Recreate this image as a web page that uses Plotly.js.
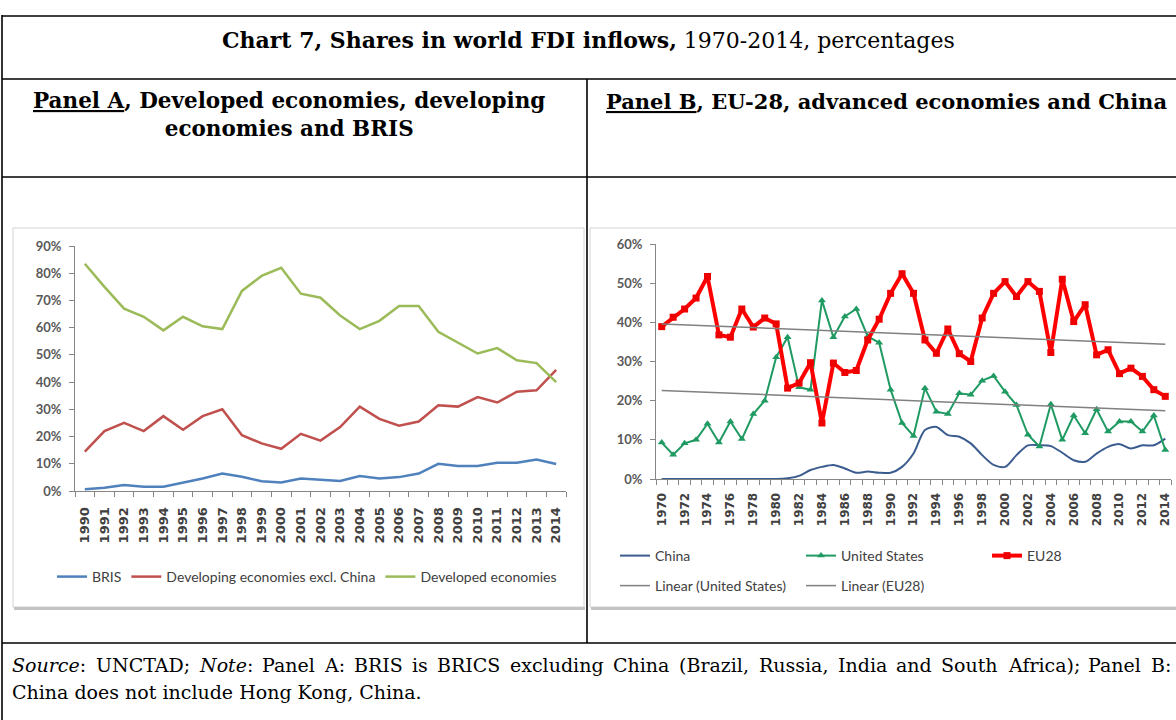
<!DOCTYPE html>
<html>
<head>
<meta charset="utf-8">
<script src="https://cdn.plot.ly/plotly-3.0.1.min.js"></script>
<style>
html,body{margin:0;padding:0;background:#ffffff;}
#chart{width:1176px;height:720px;}
</style>
</head>
<body>
<div id="chart"></div>
<script>
// ---------- Panel A data (shares of world FDI inflows, %) ----------
const yearsA = [1990,1991,1992,1993,1994,1995,1996,1997,1998,1999,2000,2001,2002,2003,2004,2005,2006,2007,2008,2009,2010,2011,2012,2013,2014];
const brisA = [0.6,1.2,2.2,1.6,1.6,3.0,4.6,6.4,5.2,3.6,3.1,4.6,4.2,3.7,5.5,4.6,5.1,6.4,10.0,9.2,9.2,10.4,10.4,11.6,9.9];
const developingA = [14.5,22,25,22,27.5,22.5,27.5,30,20.5,17.5,15.5,21,18.5,23.5,31,26.5,24,25.5,31.5,31,34.5,32.5,36.5,37,44.5];
const developedA = [83.5,75,67,64,59,64,60.5,59.5,73.5,79,82,72.5,71,64.5,59.5,62.5,68,68,58.5,54.5,50.5,52.5,48,47,40];
const seriesNamesA = ["BRIS","Developing economies excl. China","Developed economies"];
const yTicksA = [0,10,20,30,40,50,60,70,80,90];

// ---------- Panel B data ----------
const yearsB = [1970,1971,1972,1973,1974,1975,1976,1977,1978,1979,1980,1981,1982,1983,1984,1985,1986,1987,1988,1989,1990,1991,1992,1993,1994,1995,1996,1997,1998,1999,2000,2001,2002,2003,2004,2005,2006,2007,2008,2009,2010,2011,2012,2013,2014];
const chinaB = [0,0,0,0,0,0,0,0,0,0,0,0.2,0.8,2.3,3.1,3.6,2.7,1.6,1.9,1.6,1.6,3.1,6.5,12.5,13.3,11.2,10.8,9.1,6.1,3.6,3.1,6.1,8.6,8.6,8.4,6.7,4.8,4.4,6.5,8.2,8.9,7.8,8.6,8.6,10.3];
const usB = [9.3,6.2,9.1,10,14.1,9.3,14.7,10.2,16.6,20,31.1,36.2,23.4,22.8,45.6,36.2,41.5,43.4,36.4,34.8,22.8,14.3,11,23.2,17.2,16.6,21.9,21.5,25.1,26.3,22.3,18.9,11.3,8.3,19.1,10,16.2,11.7,17.8,12.1,14.7,14.7,12.1,16.2,7.4];
const eu28B = [38.9,41.3,43.4,46.2,51.7,36.8,36.2,43.4,38.8,41.1,39.6,23.2,24.5,29.7,14.3,29.6,27.2,27.7,35.5,40.8,47.4,52.4,47.4,35.5,32.1,38.3,32,30,41.1,47.4,50.4,46.6,50.4,47.9,32.3,51,40.2,44.5,31.7,33,26.9,28.3,26.2,22.8,21.1];
const trendYearsB = [1970,2014];
const trendUSB = [22.6,17.4];
const trendEUB = [39.6,34.4];
const seriesNamesB = ["China","United States","EU28","Linear (United States)","Linear (EU28)"];
const yTicksB = [0,10,20,30,40,50,60];

// ---------- document texts ----------
const titleText = '<b>Chart 7, Shares in world FDI inflows,</b> 1970-2014, percentages';
const headerA = '<b><u>Panel A</u>, Developed economies, developing<br>economies and BRIS</b>';
const headerB = '<b><u>Panel B</u>, EU-28, advanced economies and China</b>';
const sourceLine1Words = ['<i>Source</i>:', 'UNCTAD;', '<i>Note</i>:', 'Panel', 'A:', 'BRIS', 'is', 'BRICS', 'excluding', 'China', '(Brazil,', 'Russia,', 'India', 'and', 'South', 'Africa);', 'Panel', 'B:'];
const sourceLine2 = 'China does not include Hong Kong, China.';

// ---------- helpers: pixel -> paper ----------
const W = 1176, H = 720;
const X = px => px / W;
const Y = py => 1 - py / H;

const serif = 'DejaVu Serif';
const srcSize = 19;
const tickFontXA = {family:'DejaVu Sans', size:13, color:'#404040', weight:'bold'};
const tickFontXB = {family:'DejaVu Sans', size:12, color:'#404040', weight:'bold'};
const tickFontY = {family:'Lato', size:13, color:'#595959', weight:'bold'};
const legFont = {family:'Lato', size:14, color:'#404040'};
const axisGray = '#868686';

const traces = [
  {x: yearsA, y: brisA, name: seriesNamesA[0], type:'scatter', mode:'lines', line:{color:'#4F81BD', width:2.5}, xaxis:'x', yaxis:'y', legend:'legend'},
  {x: yearsA, y: developingA, name: seriesNamesA[1], type:'scatter', mode:'lines', line:{color:'#C0504D', width:2.5}, xaxis:'x', yaxis:'y', legend:'legend'},
  {x: yearsA, y: developedA, name: seriesNamesA[2], type:'scatter', mode:'lines', line:{color:'#9BBB59', width:2.5}, xaxis:'x', yaxis:'y', legend:'legend'},

  {x: yearsB, y: chinaB, name: seriesNamesB[0], type:'scatter', mode:'lines', line:{color:'#3B5C8F', width:2, shape:'spline', smoothing:0.8}, xaxis:'x2', yaxis:'y2', legend:'legend2'},
  {x: yearsB, y: usB, name: seriesNamesB[1], type:'scatter', mode:'lines+markers', line:{color:'#1F9A62', width:2}, marker:{symbol:'triangle-up', size:7, color:'#1F9A62'}, xaxis:'x2', yaxis:'y2', legend:'legend2'},
  {x: yearsB, y: eu28B, name: seriesNamesB[2], type:'scatter', mode:'lines+markers', line:{color:'#FF0000', width:4}, marker:{symbol:'square', size:7, color:'#EE0000'}, xaxis:'x2', yaxis:'y2', legend:'legend2'},
  {x: trendYearsB, y: trendUSB, name: seriesNamesB[3], type:'scatter', mode:'lines', line:{color:'#808080', width:1.5}, xaxis:'x2', yaxis:'y2', legend:'legend3'},
  {x: trendYearsB, y: trendEUB, name: seriesNamesB[4], type:'scatter', mode:'lines', line:{color:'#808080', width:1.5}, xaxis:'x2', yaxis:'y2', legend:'legend3'}
];

function hline(y, x0, x1, w){ return {type:'line', xref:'paper', yref:'paper', x0:X(x0), x1:X(x1), y0:Y(y), y1:Y(y), line:{color:'#000000', width:w||1.6}}; }
function vline(x, y0, y1, w){ return {type:'line', xref:'paper', yref:'paper', x0:X(x), x1:X(x), y0:Y(y0), y1:Y(y1), line:{color:'#000000', width:w||1.6}}; }
function box(x0, y0, x1, y1){ return {type:'rect', xref:'paper', yref:'paper', layer:'below', x0:X(x0), x1:X(x1), y0:Y(y1), y1:Y(y0), line:{color:'#D4D4D4', width:1}, fillcolor:'#FFFFFF'}; }
function shadow(y, x0, x1){ return {type:'line', xref:'paper', yref:'paper', layer:'below', x0:X(x0), x1:X(x1), y0:Y(y), y1:Y(y), line:{color:'#C4C4C4', width:3}}; }

const shapes = [
  box(13, 228, 584, 607), shadow(608.5, 14, 585),
  box(590, 228, 1190, 607), shadow(608.5, 591, 1190),
  hline(16, 2, 1176), hline(79, 2, 1176), hline(177, 2, 1176), hline(643, 2, 1176),
  vline(2, 15, 720), vline(587, 79, 643)
];

// justified first line of the source note (word positions from measured text widths)
const cvs = document.createElement('canvas').getContext('2d');
function measureWord(tok){
  let w = 0;
  tok.split(/(<i>.*?<\/i>)/).forEach(part => {
    if(!part) return;
    const it = part.startsWith('<i>');
    const t = part.replace(/<\/?i>/g, '');
    cvs.font = (it ? 'italic ' : '') + srcSize + 'px "' + serif + '"';
    w += cvs.measureText(t).width;
  });
  return w;
}
const lineLeft = 12, lineRight = 1171;
const wordWidths = sourceLine1Words.map(measureWord);
const totalW = wordWidths.reduce((a, b) => a + b, 0);
const gap = (lineRight - lineLeft - totalW) / (sourceLine1Words.length - 1);
const srcAnn = [];
let cx = lineLeft;
sourceLine1Words.forEach((tok, i) => {
  srcAnn.push({xref:'paper', yref:'paper', x:X(cx), y:Y(665), xanchor:'left', yanchor:'middle', showarrow:false,
    borderpad:0, borderwidth:0, text:tok, font:{family:serif, size:srcSize, color:'#000000'}});
  cx += wordWidths[i] + gap;
});

const annotations = [
  {xref:'paper', yref:'paper', x:X(588), y:Y(40), xanchor:'center', yanchor:'middle', showarrow:false,
   text:titleText, font:{family:serif, size:22, color:'#000000'}},
  {xref:'paper', yref:'paper', x:X(289), y:Y(115), xanchor:'center', yanchor:'middle', align:'center', showarrow:false,
   text:headerA, font:{family:serif, size:21.5, color:'#000000'}},
  {xref:'paper', yref:'paper', x:X(604), y:Y(102), xanchor:'left', yanchor:'middle', showarrow:false,
   text:headerB, font:{family:serif, size:21, color:'#000000'}},
  {xref:'paper', yref:'paper', x:X(12), y:Y(692), xanchor:'left', yanchor:'middle', showarrow:false, borderpad:0, borderwidth:0,
   text:sourceLine2, font:{family:serif, size:srcSize, color:'#000000'}}
].concat(srcAnn);

const layout = {
  width: W, height: H,
  margin: {l:0, r:0, t:0, b:0, pad:0},
  paper_bgcolor: '#FFFFFF',
  plot_bgcolor: 'rgba(0,0,0,0)',
  showlegend: true,
  xaxis: {domain:[X(75), X(566)], range:[1989.5, 2014.5], anchor:'y', tickmode:'linear', tick0:1990, dtick:1,
          tickangle:-90, ticks:'', ticklabelstandoff:10, showline:true, linecolor:axisGray, linewidth:1, showgrid:false, zeroline:false,
          tickfont:tickFontXA, minor:{ticks:'outside', tickmode:'linear', tick0:1989.5, dtick:1, ticklen:5, tickcolor:axisGray, showgrid:false}},
  yaxis: {domain:[Y(491), Y(246)], range:[0, 90], anchor:'x', tickmode:'array', tickvals:yTicksA, ticktext:yTicksA.map(v => v + '%'),
          ticks:'outside', ticklen:5, tickcolor:axisGray, showline:true, linecolor:axisGray, linewidth:1, showgrid:false, zeroline:false,
          ticklabelstandoff:5, tickfont:tickFontY},
  xaxis2: {domain:[X(656), X(1171)], range:[1969.5, 2014.5], anchor:'y2', tickmode:'linear', tick0:1970, dtick:2,
          tickangle:-90, ticks:'', ticklabelstandoff:8, showline:true, linecolor:axisGray, linewidth:1, showgrid:false, zeroline:false,
          tickfont:tickFontXB, minor:{ticks:'outside', tickmode:'linear', tick0:1969.5, dtick:1, ticklen:5, tickcolor:axisGray, showgrid:false}},
  yaxis2: {domain:[Y(479), Y(244)], range:[0, 60], anchor:'x2', tickmode:'array', tickvals:yTicksB, ticktext:yTicksB.map(v => v + '%'),
          ticks:'outside', ticklen:5, tickcolor:axisGray, showline:true, linecolor:axisGray, linewidth:1, showgrid:false, zeroline:false,
          ticklabelstandoff:5, tickfont:tickFontY},
  legend: {orientation:'h', x:X(52), xanchor:'left', y:Y(577), yanchor:'middle', font:legFont, bgcolor:'rgba(0,0,0,0)', itemwidth:30},
  legend2: {orientation:'h', x:X(615), xanchor:'left', y:Y(556), yanchor:'middle', font:legFont, bgcolor:'rgba(0,0,0,0)', itemwidth:30, entrywidth:141, entrywidthmode:'pixels'},
  legend3: {orientation:'h', x:X(615), xanchor:'left', y:Y(586), yanchor:'middle', font:legFont, bgcolor:'rgba(0,0,0,0)', itemwidth:30, entrywidth:141, entrywidthmode:'pixels'},
  shapes: shapes,
  annotations: annotations
};

Plotly.newPlot('chart', traces, layout, {displayModeBar:false, staticPlot:true});
</script>
</body>
</html>
